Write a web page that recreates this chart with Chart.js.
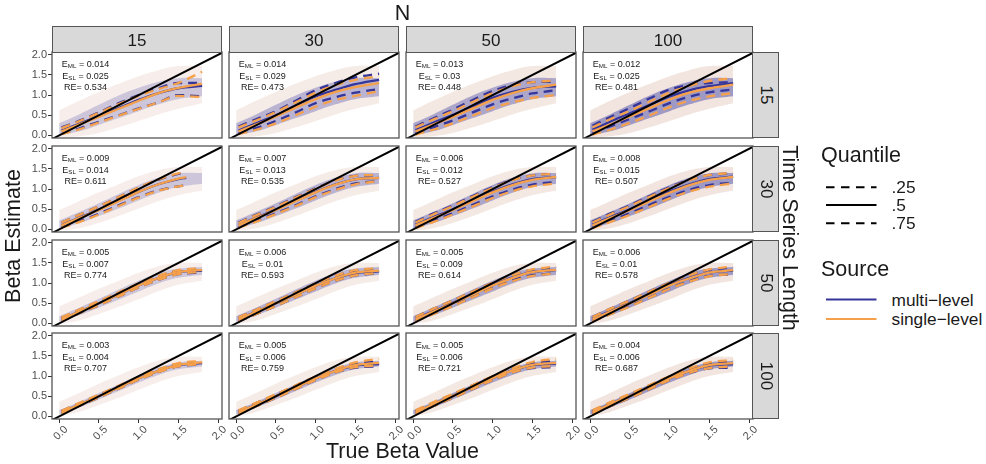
<!DOCTYPE html>
<html>
<head>
<meta charset="utf-8">
<title>Beta estimates</title>
<script src="https://cdn.jsdelivr.net/npm/chart.js@4.4.1/dist/chart.umd.min.js"></script>
<style>
  body { margin: 0; background: #fff; }
  #wrap { position: relative; width: 986px; height: 464px; overflow: hidden; font-family: "Liberation Sans", Arial, sans-serif; color: #1a1a1a; }
  #wrap canvas { position: absolute; }
  .lbl { position: absolute; white-space: nowrap; transform-origin: 50% 50%; }
  .lbl sub { font-size: 6.2px; line-height: 0; vertical-align: -1.6px; }
  .strip { position: absolute; box-sizing: border-box; background: #d9d9d9; border: 1.3px solid #555; }
  svg { position: absolute; left: 0; top: 0; }
</style>
</head>
<body>
<div id="wrap"></div>
<script>
// facets: columns = N, rows = time series length
const nLabels = ['15', '30', '50', '100'];
const tLabels = ['15', '30', '50', '100'];
const tickVals = [0, 0.5, 1.0, 1.5, 2.0];
const xMin = -0.09, xMax = 2.05;
const yMin = -0.065, yMax = 2.07;

// panel order: row by row (T = 15, 30, 50, 100), N = 15, 30, 50, 100 inside a row
const eML = [0.014, 0.014, 0.013, 0.012, 0.009, 0.007, 0.006, 0.008, 0.005, 0.006, 0.005, 0.006, 0.003, 0.005, 0.005, 0.004];
const eSL = [0.025, 0.029, 0.03, 0.025, 0.014, 0.013, 0.012, 0.015, 0.007, 0.01, 0.009, 0.01, 0.004, 0.006, 0.006, 0.006];
const reVals = [0.534, 0.473, 0.448, 0.481, 0.611, 0.535, 0.527, 0.507, 0.774, 0.593, 0.614, 0.578, 0.707, 0.759, 0.721, 0.687];

// quantile curves, read at these true beta values (last x per panel in qxEnd)
const qx = [0.03, 0.25, 0.5, 0.75, 1.0, 1.25, 1.5];
const qxEnd = [1.8, 1.8, 1.8, 1.8, 1.6, 1.8, 1.8, 1.8, 1.8, 1.8, 1.8, 1.8, 1.8, 1.8, 1.8, 1.8];

const ml75 = [
  [0.2, 0.36, 0.57, 0.8, 1.0, 1.17, 1.3, 1.3],
  [0.22, 0.4, 0.6, 0.86, 1.12, 1.3, 1.44, 1.53],
  [0.22, 0.42, 0.64, 0.88, 1.1, 1.25, 1.32, 1.33],
  [0.24, 0.45, 0.68, 0.92, 1.14, 1.25, 1.3, 1.32],
  [0.17, 0.36, 0.57, 0.8, 1.03, 1.23, 1.38, 1.42],
  [0.17, 0.36, 0.57, 0.8, 1.02, 1.22, 1.33, 1.34],
  [0.19, 0.39, 0.6, 0.83, 1.05, 1.23, 1.34, 1.38],
  [0.19, 0.39, 0.6, 0.83, 1.05, 1.23, 1.35, 1.39],
  [0.14, 0.33, 0.54, 0.76, 0.98, 1.17, 1.31, 1.36],
  [0.15, 0.34, 0.55, 0.77, 0.99, 1.18, 1.31, 1.35],
  [0.16, 0.36, 0.57, 0.79, 1.01, 1.2, 1.33, 1.39],
  [0.16, 0.36, 0.57, 0.79, 1.01, 1.2, 1.33, 1.38],
  [0.13, 0.32, 0.53, 0.75, 0.97, 1.16, 1.3, 1.35],
  [0.14, 0.33, 0.54, 0.76, 0.98, 1.17, 1.31, 1.36],
  [0.14, 0.34, 0.55, 0.77, 0.99, 1.18, 1.32, 1.38],
  [0.14, 0.34, 0.55, 0.77, 0.99, 1.18, 1.31, 1.36]
];
const ml50 = [
  [0.12, 0.29, 0.48, 0.68, 0.88, 1.05, 1.17, 1.23],
  [0.12, 0.3, 0.5, 0.74, 0.97, 1.13, 1.27, 1.38],
  [0.13, 0.31, 0.51, 0.72, 0.93, 1.08, 1.18, 1.22],
  [0.14, 0.34, 0.55, 0.76, 0.97, 1.12, 1.22, 1.3],
  [0.11, 0.29, 0.49, 0.71, 0.93, 1.12, 1.25, 1.28],
  [0.11, 0.29, 0.49, 0.71, 0.93, 1.12, 1.24, 1.28],
  [0.12, 0.3, 0.5, 0.72, 0.94, 1.12, 1.25, 1.3],
  [0.12, 0.3, 0.5, 0.72, 0.94, 1.12, 1.25, 1.31],
  [0.1, 0.29, 0.5, 0.72, 0.94, 1.13, 1.27, 1.31],
  [0.1, 0.29, 0.5, 0.71, 0.93, 1.12, 1.25, 1.29],
  [0.11, 0.3, 0.51, 0.73, 0.95, 1.14, 1.27, 1.32],
  [0.11, 0.3, 0.51, 0.73, 0.95, 1.13, 1.26, 1.31],
  [0.1, 0.29, 0.5, 0.72, 0.94, 1.13, 1.27, 1.32],
  [0.1, 0.29, 0.5, 0.72, 0.94, 1.13, 1.26, 1.3],
  [0.1, 0.3, 0.51, 0.73, 0.95, 1.14, 1.27, 1.31],
  [0.1, 0.3, 0.51, 0.73, 0.95, 1.13, 1.26, 1.3]
];
const ml25 = [
  [0.04, 0.17, 0.34, 0.5, 0.67, 0.82, 1.0, 0.97],
  [0.05, 0.18, 0.36, 0.57, 0.8, 0.95, 1.06, 1.15],
  [0.05, 0.2, 0.37, 0.57, 0.77, 0.92, 1.04, 1.12],
  [0.06, 0.22, 0.41, 0.6, 0.8, 0.96, 1.07, 1.14],
  [0.05, 0.2, 0.39, 0.6, 0.8, 0.97, 1.07, 1.1],
  [0.05, 0.21, 0.4, 0.6, 0.82, 1.0, 1.14, 1.2],
  [0.05, 0.21, 0.4, 0.61, 0.82, 0.99, 1.11, 1.18],
  [0.05, 0.21, 0.4, 0.61, 0.81, 0.98, 1.1, 1.16],
  [0.06, 0.25, 0.45, 0.67, 0.89, 1.08, 1.22, 1.26],
  [0.05, 0.23, 0.43, 0.65, 0.87, 1.06, 1.19, 1.24],
  [0.06, 0.24, 0.44, 0.66, 0.88, 1.07, 1.2, 1.24],
  [0.06, 0.23, 0.43, 0.65, 0.87, 1.05, 1.18, 1.22],
  [0.07, 0.26, 0.47, 0.69, 0.91, 1.1, 1.24, 1.29],
  [0.06, 0.25, 0.46, 0.68, 0.9, 1.09, 1.21, 1.24],
  [0.06, 0.25, 0.46, 0.68, 0.9, 1.09, 1.2, 1.22],
  [0.06, 0.25, 0.46, 0.68, 0.9, 1.08, 1.19, 1.21]
];
const sl75 = [
  [0.18, 0.35, 0.56, 0.78, 0.98, 1.15, 1.3, 1.58],
  [0.2, 0.37, 0.58, 0.82, 1.06, 1.25, 1.38, 1.47],
  [0.2, 0.39, 0.6, 0.83, 1.05, 1.22, 1.32, 1.36],
  [0.2, 0.4, 0.61, 0.84, 1.06, 1.23, 1.35, 1.42],
  [0.17, 0.36, 0.57, 0.8, 1.04, 1.24, 1.39, 1.43],
  [0.16, 0.35, 0.56, 0.79, 1.01, 1.21, 1.33, 1.35],
  [0.17, 0.37, 0.58, 0.81, 1.03, 1.22, 1.34, 1.38],
  [0.17, 0.37, 0.58, 0.81, 1.03, 1.22, 1.35, 1.4],
  [0.15, 0.34, 0.55, 0.77, 0.99, 1.18, 1.32, 1.37],
  [0.15, 0.34, 0.55, 0.77, 0.99, 1.18, 1.32, 1.37],
  [0.16, 0.36, 0.57, 0.79, 1.01, 1.2, 1.34, 1.41],
  [0.16, 0.36, 0.57, 0.79, 1.01, 1.2, 1.34, 1.41],
  [0.14, 0.33, 0.54, 0.76, 0.98, 1.17, 1.32, 1.38],
  [0.15, 0.34, 0.55, 0.77, 0.99, 1.18, 1.34, 1.43],
  [0.15, 0.35, 0.56, 0.78, 1.0, 1.19, 1.35, 1.43],
  [0.15, 0.35, 0.56, 0.78, 1.0, 1.19, 1.34, 1.4]
];
const sl50 = [
  [0.1, 0.27, 0.46, 0.66, 0.86, 1.05, 1.18, 1.28],
  [0.1, 0.27, 0.47, 0.69, 0.9, 1.08, 1.2, 1.3],
  [0.1, 0.27, 0.46, 0.67, 0.88, 1.05, 1.17, 1.26],
  [0.1, 0.27, 0.47, 0.68, 0.89, 1.06, 1.17, 1.26],
  [0.1, 0.28, 0.48, 0.7, 0.93, 1.12, 1.26, 1.3],
  [0.1, 0.28, 0.48, 0.7, 0.92, 1.11, 1.24, 1.28],
  [0.1, 0.28, 0.48, 0.7, 0.92, 1.1, 1.23, 1.3],
  [0.1, 0.28, 0.48, 0.7, 0.91, 1.1, 1.23, 1.3],
  [0.1, 0.29, 0.5, 0.72, 0.94, 1.13, 1.27, 1.33],
  [0.1, 0.29, 0.5, 0.71, 0.93, 1.12, 1.26, 1.31],
  [0.1, 0.29, 0.5, 0.72, 0.94, 1.13, 1.27, 1.33],
  [0.1, 0.29, 0.5, 0.72, 0.94, 1.12, 1.26, 1.32],
  [0.1, 0.29, 0.5, 0.72, 0.94, 1.13, 1.28, 1.34],
  [0.1, 0.29, 0.5, 0.72, 0.94, 1.13, 1.27, 1.33],
  [0.1, 0.3, 0.51, 0.73, 0.95, 1.14, 1.28, 1.33],
  [0.1, 0.3, 0.51, 0.73, 0.95, 1.13, 1.27, 1.32]
];
const sl25 = [
  [0.03, 0.15, 0.32, 0.49, 0.66, 0.82, 0.98, 0.95],
  [0.03, 0.14, 0.3, 0.5, 0.71, 0.88, 0.98, 1.1],
  [0.02, 0.14, 0.3, 0.49, 0.68, 0.82, 0.93, 1.0],
  [0.02, 0.14, 0.31, 0.5, 0.7, 0.86, 0.97, 1.05],
  [0.04, 0.18, 0.37, 0.58, 0.79, 0.96, 1.07, 1.1],
  [0.04, 0.19, 0.38, 0.58, 0.8, 0.98, 1.12, 1.2],
  [0.03, 0.18, 0.37, 0.57, 0.78, 0.95, 1.07, 1.14],
  [0.03, 0.18, 0.36, 0.56, 0.77, 0.94, 1.06, 1.14],
  [0.06, 0.25, 0.45, 0.67, 0.89, 1.08, 1.22, 1.28],
  [0.05, 0.23, 0.43, 0.65, 0.87, 1.06, 1.19, 1.25],
  [0.05, 0.23, 0.43, 0.65, 0.87, 1.05, 1.18, 1.24],
  [0.05, 0.22, 0.42, 0.64, 0.86, 1.04, 1.17, 1.23],
  [0.07, 0.26, 0.47, 0.69, 0.91, 1.1, 1.24, 1.3],
  [0.06, 0.25, 0.46, 0.68, 0.9, 1.09, 1.22, 1.27],
  [0.06, 0.25, 0.46, 0.68, 0.9, 1.09, 1.21, 1.25],
  [0.06, 0.25, 0.46, 0.68, 0.9, 1.08, 1.2, 1.24]
];

// spread of the point cloud per time series length (outer halo / dense core)
const cloudX = [0, 0.25, 0.5, 0.75, 1.0, 1.25, 1.5, 1.8];
const outerLo = [
  [-0.04, -0.02, 0.06, 0.2, 0.36, 0.52, 0.66, 0.8],
  [-0.03, 0.03, 0.16, 0.33, 0.52, 0.7, 0.85, 0.96],
  [-0.02, 0.07, 0.23, 0.41, 0.6, 0.8, 0.96, 1.06],
  [0.0, 0.11, 0.28, 0.46, 0.66, 0.85, 1.0, 1.1]
];
const outerHi = [
  [0.62, 0.86, 1.08, 1.28, 1.47, 1.62, 1.72, 1.72],
  [0.48, 0.7, 0.92, 1.12, 1.32, 1.47, 1.55, 1.55],
  [0.42, 0.64, 0.86, 1.06, 1.26, 1.42, 1.5, 1.5],
  [0.36, 0.58, 0.81, 1.02, 1.22, 1.39, 1.48, 1.48]
];
const coreLo = [
  [0.0, 0.1, 0.26, 0.43, 0.6, 0.77, 0.9, 0.97],
  [0.02, 0.15, 0.33, 0.52, 0.72, 0.91, 1.05, 1.13],
  [0.04, 0.2, 0.39, 0.59, 0.79, 0.99, 1.13, 1.21],
  [0.05, 0.22, 0.42, 0.63, 0.84, 1.03, 1.17, 1.24]
];
const coreHi = [
  [0.3, 0.52, 0.76, 0.99, 1.18, 1.33, 1.42, 1.42],
  [0.22, 0.43, 0.65, 0.88, 1.1, 1.28, 1.39, 1.4],
  [0.18, 0.39, 0.61, 0.84, 1.06, 1.25, 1.36, 1.4],
  [0.16, 0.36, 0.58, 0.8, 1.02, 1.21, 1.34, 1.38]
];

const ML_COL = '#35359a';
const SL_COL = '#f5a04a';
const outerAlpha = [0.3, 0.36, 0.42, 0.48];
const coreAlpha = [0.3, 0.42, 0.52, 0.6];

const family = '"Liberation Sans", Arial, sans-serif';
const colX = [52, 229, 406, 583];
const rowY = [52, 146, 240, 333];
const PW = 170, PH = 86;
const L = 50, B = 40, PT = 8, PR = 8;

const wrap = document.getElementById('wrap');

function label(html, cx, cy, size, opts = {}) {
  const d = document.createElement('div');
  d.className = 'lbl';
  d.innerHTML = html;
  d.style.left = cx + 'px';
  d.style.top = cy + 'px';
  d.style.fontSize = size + 'px';
  d.style.lineHeight = size + 'px';
  const tx = opts.align === 'left' ? '0' : '-50%';
  d.style.transform = 'translate(' + tx + ',-50%)' + (opts.rot ? ' rotate(' + opts.rot + 'deg)' : '');
  if (opts.color) d.style.color = opts.color;
  wrap.appendChild(d);
}

function pts(xs, ys) {
  return ys.map((y, i) => ({ x: xs[i], y: y }));
}

const panelBorder = {
  id: 'panelBorder',
  afterDraw(chart) {
    const a = chart.chartArea;
    const ctx = chart.ctx;
    ctx.save();
    ctx.strokeStyle = '#555';
    ctx.lineWidth = 1.3;
    ctx.strokeRect(a.left, a.top, a.right - a.left, a.bottom - a.top);
    ctx.restore();
  }
};

function quantLine(xs, ys, color, dashed, order) {
  return {
    data: pts(xs, ys),
    borderColor: color,
    borderWidth: 2.3,
    borderDash: dashed ? [9, 6] : [],
    pointRadius: 0,
    tension: 0.4,
    cubicInterpolationMode: 'monotone',
    fill: false,
    order: order
  };
}

function axis(show, horizontal) {
  return {
    type: 'linear',
    min: horizontal ? xMin : yMin,
    max: horizontal ? xMax : yMax,
    afterBuildTicks: s => { s.ticks = tickVals.map(v => ({ value: v })); },
    afterFit: s => { if (horizontal) s.height = B; else s.width = L; },
    border: { display: false },
    grid: { display: show, drawOnChartArea: false, drawTicks: true, tickLength: 4, color: '#333', lineWidth: 1 },
    ticks: {
      display: show,
      padding: horizontal ? 0 : 1,
      labelOffset: horizontal ? 7 : 0,
      color: '#4d4d4d',
      font: { family: family, size: 11 },
      minRotation: horizontal ? 45 : 0,
      maxRotation: horizontal ? 45 : 0,
      callback: v => Number(v).toFixed(1)
    }
  };
}

for (let r = 0; r < 4; r++) {
  for (let c = 0; c < 4; c++) {
    const p = r * 4 + c;
    const xs = qx.concat([qxEnd[p]]);
    const cv = document.createElement('canvas');
    cv.width = L + PW + PR;
    cv.height = PT + PH + B;
    cv.style.left = (colX[c] - L) + 'px';
    cv.style.top = (rowY[r] - PT) + 'px';
    wrap.appendChild(cv);

    const datasets = [
      { data: [{ x: -0.2, y: -0.2 }, { x: 2.3, y: 2.3 }], borderColor: '#000', borderWidth: 2, pointRadius: 0, fill: false, order: 0 },
      quantLine(xs, sl25[p], SL_COL, true, 1),
      quantLine(xs, sl50[p], SL_COL, false, 1),
      quantLine(xs, sl75[p], SL_COL, true, 1),
      quantLine(xs, ml25[p], ML_COL, true, 2),
      quantLine(xs, ml50[p], ML_COL, false, 2),
      quantLine(xs, ml75[p], ML_COL, true, 2),
      { data: pts(cloudX, coreHi[r]), borderWidth: 0, borderColor: 'rgba(0,0,0,0)', pointRadius: 0, tension: 0.4,
        fill: 8, backgroundColor: 'rgba(105,105,180,' + coreAlpha[c] + ')', order: 3 },
      { data: pts(cloudX, coreLo[r]), borderWidth: 0, borderColor: 'rgba(0,0,0,0)', pointRadius: 0, tension: 0.4, fill: false, order: 3 },
      { data: pts(cloudX, outerHi[r]), borderWidth: 0, borderColor: 'rgba(0,0,0,0)', pointRadius: 0, tension: 0.4,
        fill: 10, backgroundColor: 'rgba(228,200,188,' + outerAlpha[c] + ')', order: 4 },
      { data: pts(cloudX, outerLo[r]), borderWidth: 0, borderColor: 'rgba(0,0,0,0)', pointRadius: 0, tension: 0.4, fill: false, order: 4 }
    ];

    new Chart(cv, {
      type: 'line',
      data: { datasets: datasets },
      options: {
        animation: false,
        responsive: false,
        maintainAspectRatio: false,
        layout: { padding: { top: PT, right: PR, left: 0, bottom: 0 } },
        plugins: { legend: { display: false }, tooltip: { enabled: false } },
        scales: { x: axis(r === 3, true), y: axis(c === 0, false) }
      },
      plugins: [panelBorder]
    });

    label('E<sub>ML</sub> = ' + eML[p], colX[c] + 33.5, rowY[r] + 12, 9);
    label('E<sub>SL</sub> = ' + eSL[p], colX[c] + 33.5, rowY[r] + 23.5, 9);
    label('RE= ' + reVals[p], colX[c] + 33.5, rowY[r] + 35.3, 9);
  }
}

// strips
for (let c = 0; c < 4; c++) {
  const s = document.createElement('div');
  s.className = 'strip';
  s.style.left = colX[c] + 'px'; s.style.top = '26px';
  s.style.width = PW + 'px'; s.style.height = '27px';
  wrap.appendChild(s);
  label(nLabels[c], colX[c] + PW / 2, 39.5, 17);
}
for (let r = 0; r < 4; r++) {
  const s = document.createElement('div');
  s.className = 'strip';
  s.style.left = (colX[3] + PW - 1) + 'px'; s.style.top = rowY[r] + 'px';
  s.style.width = '27px'; s.style.height = PH + 'px';
  wrap.appendChild(s);
  label(tLabels[r], colX[3] + PW + 13, rowY[r] + PH / 2, 17, { rot: 90 });
}

// titles
label('N', 402.5, 14, 21.5);
label('Time Series Length', 789, 238, 21.5, { rot: 90 });
label('Beta Estimate', 13.5, 236, 21.5, { rot: -90 });
label('True Beta Value', 402.5, 451.5, 21.5);

// legend
label('Quantile', 821, 155.5, 21.5, { align: 'left' });
label('.25', 891.5, 187.5, 17.3, { align: 'left' });
label('.5', 891.5, 205.5, 17.3, { align: 'left' });
label('.75', 891.5, 223.5, 17.3, { align: 'left' });
label('Source', 821, 269.5, 21.5, { align: 'left' });
label('multi\u2212level', 891.5, 300.5, 17.3, { align: 'left' });
label('single\u2212level', 891.5, 319.5, 17.3, { align: 'left' });

const svgNS = 'http://www.w3.org/2000/svg';
const svg = document.createElementNS(svgNS, 'svg');
svg.setAttribute('width', 986);
svg.setAttribute('height', 464);
const keys = [
  [187.3, '#000', '8.5 6.5'],
  [205, '#000', ''],
  [223.3, '#000', '8.5 6.5'],
  [299.5, ML_COL, ''],
  [319, SL_COL, '']
];
keys.forEach(k => {
  const ln = document.createElementNS(svgNS, 'line');
  ln.setAttribute('x1', 826); ln.setAttribute('x2', 876.5);
  ln.setAttribute('y1', k[0]); ln.setAttribute('y2', k[0]);
  ln.setAttribute('stroke', k[1]); ln.setAttribute('stroke-width', 2);
  if (k[2]) ln.setAttribute('stroke-dasharray', k[2]);
  svg.appendChild(ln);
});
wrap.appendChild(svg);
</script>
</body>
</html>
